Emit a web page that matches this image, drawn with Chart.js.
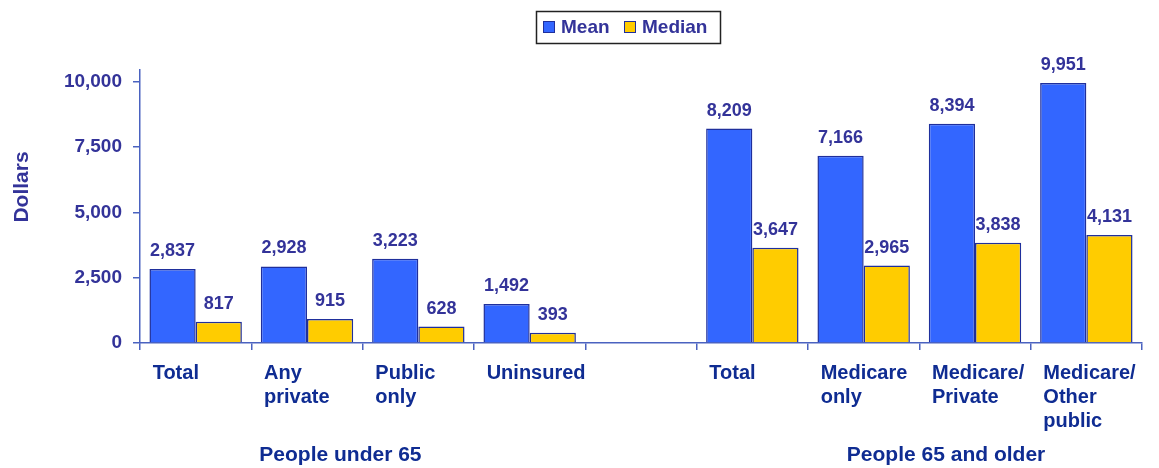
<!DOCTYPE html>
<html>
<head>
<meta charset="utf-8">
<script src="https://cdn.jsdelivr.net/npm/chart.js@4"></script>
<style>
  html, body { margin: 0; padding: 0; background: #fff; }
  #wrap { width: 1159px; height: 468px; position: relative; }
</style>
</head>
<body>
<div id="wrap"><canvas id="c"></canvas></div>
<script>
// categories (the empty slot is the gap between the two groups)
const categories = [
  ['Total'], ['Any', 'private'], ['Public', 'only'], ['Uninsured'], [''],
  ['Total'], ['Medicare', 'only'], ['Medicare/', 'Private'], ['Medicare/', 'Other', 'public']
];
const meanValues = [2837, 2928, 3223, 1492, null, 8209, 7166, 8394, 9951];
const medianValues = [817, 915, 628, 393, null, 3647, 2965, 3838, 4131];
const yTicks = [0, 2500, 5000, 7500, 10000];
const groupLabels = ['People under 65', 'People 65 and older'];
const groupPos = [1.3, 6.74];

const NAVY = '#333399';
const LABEL = '#0f2c92';
const AXIS = '#4a62c0';
const fmt = n => n.toLocaleString('en-US');

const extras = {
  id: 'extras',
  afterDatasetsDraw(chart) {
    const ctx = chart.ctx;
    ctx.save();
    // value labels above bars
    ctx.fillStyle = NAVY;
    ctx.font = 'bold 18px "Liberation Sans", Arial, sans-serif';
    ctx.textAlign = 'center';
    ctx.textBaseline = 'bottom';
    chart.data.datasets.forEach((ds, di) => {
      chart.getDatasetMeta(di).data.forEach((bar, i) => {
        if (ds.data[i] == null) return;
        ctx.fillText(fmt(ds.data[i]), bar.x, bar.y - 9);
      });
    });
    // group labels
    const x = chart.scales.x;
    ctx.fillStyle = LABEL;
    ctx.font = 'bold 21px "Liberation Sans", Arial, sans-serif';
    ctx.textBaseline = 'middle';
    groupLabels.forEach((g, i) => ctx.fillText(g, x.getPixelForValue(groupPos[i]), 455));
    // y axis title
    ctx.save();
    ctx.translate(22, 187);
    ctx.rotate(-Math.PI / 2);
    ctx.fillStyle = NAVY;
    ctx.font = 'bold 21px "Liberation Sans", Arial, sans-serif';
    ctx.fillText('Dollars', 0, 0);
    ctx.restore();
    // legend box
    ctx.strokeStyle = '#222';
    ctx.lineWidth = 1.5;
    ctx.strokeRect(536.5, 11.5, 184, 32);
    ctx.font = 'bold 19px "Liberation Sans", Arial, sans-serif';
    ctx.textAlign = 'left';
    const items = [{ x: 543, tx: 561 }, { x: 624, tx: 642 }];
    chart.data.datasets.forEach((ds, i) => {
      ctx.fillStyle = ds.backgroundColor;
      ctx.fillRect(items[i].x, 21, 12, 12);
      ctx.strokeStyle = ds.borderColor;
      ctx.lineWidth = 1;
      ctx.strokeRect(items[i].x + 0.5, 21.5, 11, 11);
      ctx.fillStyle = NAVY;
      ctx.fillText(ds.label, items[i].tx, 28);
    });
    ctx.restore();
  }
};

new Chart(document.getElementById('c'), {
  type: 'bar',
  data: {
    labels: categories,
    datasets: [
      { label: 'Mean', data: meanValues, backgroundColor: '#3366ff', borderColor: '#1f2f9c', borderWidth: 1.5, borderSkipped: 'bottom' },
      { label: 'Median', data: medianValues, backgroundColor: '#ffcc00', borderColor: '#1f2f9c', borderWidth: 1.5, borderSkipped: 'bottom' }
    ]
  },
  options: {
    responsive: true,
    maintainAspectRatio: false,
    animation: false,
    categoryPercentage: 0.83,
    barPercentage: 1,
    layout: { padding: { top: 70, right: 17, left: 0, bottom: 0 } },
    plugins: { legend: { display: false }, tooltip: { enabled: false } },
    scales: {
      x: {
        afterFit: s => { s.height = 125; s.paddingLeft = 0; s.paddingRight = 0; },
        border: { color: AXIS, width: 1.5 },
        grid: { drawOnChartArea: false, offset: true, tickLength: 7, color: AXIS, lineWidth: 1.5 },
        ticks: {
          color: LABEL, align: 'start', labelOffset: -43, padding: 12, maxRotation: 0, autoSkip: false,
          font: { family: '"Liberation Sans", Arial, sans-serif', size: 20, weight: 'bold', lineHeight: 1.18 }
        }
      },
      y: {
        min: 0, max: 10450,
        afterFit: s => { s.width = 140; },
        afterBuildTicks: s => { s.ticks = yTicks.map(v => ({ value: v })); },
        border: { color: AXIS, width: 1.5 },
        grid: { drawOnChartArea: false, tickLength: 7, color: AXIS, lineWidth: 1.5 },
        ticks: {
          color: NAVY, padding: 11, callback: v => fmt(v),
          font: { family: '"Liberation Sans", Arial, sans-serif', size: 19, weight: 'bold' }
        }
      }
    }
  },
  plugins: [extras]
});
</script>
</body>
</html>
